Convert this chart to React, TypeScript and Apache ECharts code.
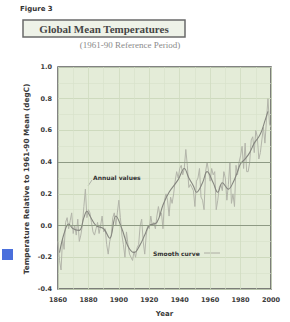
import React, { useEffect, useRef } from "react";
import * as echarts from "echarts";

const years: number[] = [];
for (let y = 1860; y <= 2000; y++) years.push(y);

const annualValues = [
  -0.10, -0.22, -0.28, -0.08, -0.15, 0.02, 0.05, -0.02, 0.03, 0.08,
  -0.05, 0.00, -0.06, 0.04, -0.10, -0.06, 0.00, 0.12, 0.23, 0.05,
  0.10, 0.08, 0.02, -0.04, -0.06, -0.02, 0.02, -0.05, 0.00, 0.06,
  -0.04, -0.02, -0.12, -0.18, -0.10, -0.06, 0.05, 0.08, 0.00, 0.08,
  0.16, 0.05, -0.06, -0.12, -0.20, -0.04, -0.12, -0.18, -0.20, -0.22,
  -0.16, -0.20, -0.14, -0.12, 0.00, 0.04, -0.10, -0.18, -0.06, 0.00,
  -0.02, 0.06, 0.00, 0.02, -0.02, 0.06, 0.12, 0.06, 0.08, -0.02,
  0.16, 0.20, 0.16, 0.06, 0.18, 0.14, 0.20, 0.28, 0.34, 0.30,
  0.36, 0.38, 0.32, 0.36, 0.48, 0.38, 0.24, 0.26, 0.24, 0.22,
  0.12, 0.28, 0.30, 0.36, 0.18, 0.16, 0.10, 0.34, 0.40, 0.34,
  0.28, 0.36, 0.32, 0.34, 0.10, 0.16, 0.24, 0.26, 0.22, 0.34,
  0.30, 0.16, 0.26, 0.40, 0.14, 0.20, 0.12, 0.38, 0.32, 0.40,
  0.44, 0.50, 0.36, 0.52, 0.34, 0.34, 0.40, 0.54, 0.56, 0.46,
  0.60, 0.56, 0.42, 0.46, 0.54, 0.62, 0.52, 0.66, 0.80, 0.64,
  0.62,
];

const smoothYears = [
  1861, 1864, 1867, 1870, 1874, 1877, 1879, 1881, 1885, 1890, 1894, 1898,
  1902, 1906, 1910, 1914, 1917, 1920, 1925, 1929, 1933, 1939, 1943, 1946,
  1949, 1951, 1955, 1958, 1962, 1965, 1968, 1972, 1975, 1978, 1980, 1983,
  1986, 1989, 1992, 1994, 1996, 1998,
];
const smoothValues = [
  -0.17, -0.05, 0.01, -0.02, -0.03, 0.05, 0.09, 0.06, 0.0, -0.02, -0.08, 0.06,
  -0.02, -0.13, -0.17, -0.12, -0.06, 0.0, 0.02, 0.13, 0.21, 0.29, 0.36, 0.3,
  0.25, 0.21, 0.27, 0.34, 0.27, 0.21, 0.27, 0.23, 0.27, 0.34, 0.39, 0.42,
  0.46, 0.52, 0.56, 0.6, 0.66, 0.72,
];

const yTicks = [-0.4, -0.2, 0.0, 0.2, 0.4, 0.6, 0.8, 1.0];
const xTicks = [1860, 1880, 1900, 1920, 1940, 1960, 1980, 2000];
const majorLines = [0.4, 0.0];

export default function App() {
  const ref = useRef<HTMLDivElement>(null);
  useEffect(() => {
    if (!ref.current) return;
    const chart = echarts.init(ref.current, undefined, { renderer: "svg" });
    const labelFont = { fontFamily: "DejaVu Sans", fontWeight: "bold" as const, fontSize: 6.5, color: "#3a3a3a" };
    chart.setOption({
      animation: false,
      backgroundColor: "#ffffff",
      grid: { left: 58, right: 19, top: 67, bottom: 32, backgroundColor: "#e4ecd8", show: true, borderColor: "#5a5a5a", borderWidth: 1.5 },
      xAxis: {
        type: "value",
        min: 1860,
        max: 2000,
        interval: 20,
        axisLine: { show: false },
        axisTick: { show: false },
        axisLabel: { ...labelFont, margin: 7, formatter: (v: number) => (xTicks.includes(v) ? String(v) : "") },
        splitLine: { show: true, lineStyle: { color: "#cfdcc0", width: 0.8 } },
        minorTick: { show: false, splitNumber: 2 },
        minorSplitLine: { show: true, lineStyle: { color: "#d6e1c9", width: 0.6 } },
        name: "Year",
        nameLocation: "middle",
        nameGap: 21,
        nameTextStyle: { ...labelFont, fontSize: 7 },
      },
      yAxis: {
        type: "value",
        min: -0.4,
        max: 1.0,
        interval: 0.2,
        axisLine: { show: false },
        axisTick: { show: false },
        axisLabel: {
          ...labelFont,
          margin: 6,
          formatter: (v: number) => {
            const r = Math.round(v * 10) / 10;
            return yTicks.includes(r) ? r.toFixed(1) : "";
          },
        },
        splitLine: { show: true, lineStyle: { color: "#c8d6b8", width: 0.8 } },
        minorTick: { show: false, splitNumber: 2 },
        minorSplitLine: { show: true, lineStyle: { color: "#d6e1c9", width: 0.6 } },
      },
      series: [
        {
          type: "line",
          data: years.map((y, i) => [y, annualValues[i]]),
          showSymbol: false,
          lineStyle: { color: "#b3b5aa", width: 1 },
          z: 2,
          markLine: {
            silent: true,
            symbol: "none",
            label: { show: false },
            lineStyle: { color: "#8e9a84", width: 1, type: "solid" },
            data: majorLines.map((v) => ({ yAxis: v })),
          },
        },
        {
          type: "line",
          data: smoothYears.map((y, i) => [y, smoothValues[i]]),
          showSymbol: false,
          smooth: 0.4,
          lineStyle: { color: "#85867f", width: 1.1 },
          z: 3,
        },
      ],
      graphic: [
        { type: "text", left: 20, top: 5, style: { text: "Figure 3", font: "bold 7px 'DejaVu Sans'", fill: "#333" } },
        { type: "rect", shape: { x: 23, y: 20, width: 162, height: 17 }, style: { fill: "#eef2e8", stroke: "#6a6a6a", lineWidth: 1.5 } },
        { type: "text", x: 104, y: 28.5, style: { text: "Global Mean Temperatures", font: "bold 11px 'Liberation Serif'", fill: "#454545", align: "center", verticalAlign: "middle" } },
        { type: "text", x: 130, y: 45, style: { text: "(1961-90 Reference Period)", font: "9px 'Liberation Serif'", fill: "#8a8a8a", align: "center", verticalAlign: "middle" } },
        { type: "text", x: 26, y: 179, rotation: Math.PI / 2, style: { text: "Temperature Relative to 1961-90 Mean (degC)", font: "bold 7.3px 'DejaVu Sans'", fill: "#3a3a3a", align: "center", verticalAlign: "middle" } },
        { type: "text", x: 93, y: 177, z: 10, style: { text: "Annual values", font: "bold 6px 'DejaVu Sans'", fill: "#333", verticalAlign: "middle" } },
        { type: "line", shape: { x1: 92, y1: 180, x2: 88, y2: 186 }, style: { stroke: "#888", lineWidth: 0.6 } },
        { type: "text", x: 153, y: 253, z: 10, style: { text: "Smooth curve", font: "bold 6px 'DejaVu Sans'", fill: "#333", verticalAlign: "middle" } },
        { type: "line", shape: { x1: 204, y1: 253, x2: 220, y2: 253 }, style: { stroke: "#a0a098", lineWidth: 0.8 } },
        { type: "rect", shape: { x: 2, y: 249, width: 11, height: 11 }, style: { fill: "#4a6fdc" } },
      ],
    });
    return () => chart.dispose();
  }, []);
  return <div ref={ref} style={{ width: 290, height: 322, position: "absolute", left: 0, top: 0 }} />;
}
